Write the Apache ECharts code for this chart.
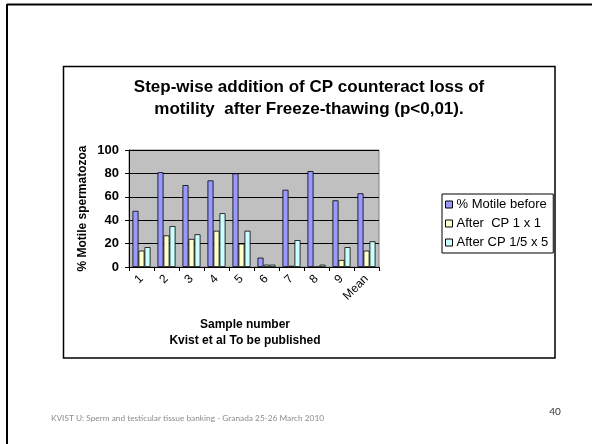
<!DOCTYPE html>
<html>
<head>
<meta charset="utf-8">
<script src="https://cdn.jsdelivr.net/npm/echarts@6/dist/echarts.min.js"></script>
<style>
html,body{margin:0;padding:0;background:#fff;}
#c{width:592px;height:444px;}
</style>
</head>
<body>
<div id="c"></div>
<script>
var categories = ['1','2','3','4','5','6','7','8','9','Mean'];
var seriesNames = ['% Motile before', 'After  CP 1 x 1', 'After CP 1/5 x 5'];
var motileBefore = [48, 81, 70, 74, 80, 8, 66, 82, 57, 63];
var afterCP1x1 = [14, 27, 24, 31, 20, 2, 1, 0, 6, 14];
var afterCP15x5 = [17, 35, 28, 46, 31, 2, 23, 2, 17, 22];
var yTicks = [0, 20, 40, 60, 80, 100];
var titleLines = ['Step-wise addition of CP counteract loss of', 'motility  after Freeze-thawing (p<0,01).'];
var yAxisName = '% Motile spermatozoa';
var xAxisNameLines = ['Sample number', 'Kvist et al To be published'];
var footerText = 'KVIST U: Sperm and testicular tissue banking - Granada 25-26 March 2010';
var pageNumber = '40';

var FONT = '"Liberation Sans", Arial, sans-serif';
var colors = ['#9999FF', '#FFFFCC', '#CCFFFF'];
var data = [motileBefore, afterCP1x1, afterCP15x5];

var chart = echarts.init(document.getElementById('c'), null, {renderer: 'canvas'});

var series = seriesNames.map(function (n, i) {
  return {
    name: n,
    type: 'bar',
    data: data[i],
    barGap: '0%',
    barCategoryGap: '28%',
    itemStyle: {color: colors[i], borderColor: '#000', borderWidth: 0.8},
    emphasis: {disabled: true}
  };
});

var option = {
  animation: false,
  color: colors,
  textStyle: {fontFamily: FONT},
  grid: {
    left: 129, top: 150, width: 250, height: 117,
    show: true, backgroundColor: '#C0C0C0', borderColor: '#808080', borderWidth: 1
  },
  legend: {
    orient: 'vertical',
    left: 442, top: 194,
    padding: [4, 5, 4, 3],
    itemGap: 6,
    itemWidth: 7, itemHeight: 7,
    icon: 'rect',
    borderColor: '#000', borderWidth: 1,
    backgroundColor: '#fff',
    itemStyle: {borderColor: '#000', borderWidth: 1},
    textStyle: {fontFamily: FONT, fontSize: 13, color: '#000', padding: [0, 0, 0, -1]},
    data: seriesNames
  },
  xAxis: {
    type: 'category',
    data: categories,
    boundaryGap: true,
    axisLine: {lineStyle: {color: '#000', width: 1}},
    axisTick: {show: true, length: 4, lineStyle: {color: '#000'}},
    axisLabel: {rotate: 45, margin: 10, fontFamily: FONT, fontSize: 12, color: '#000', interval: 0}
  },
  yAxis: {
    type: 'value',
    min: yTicks[0], max: yTicks[yTicks.length - 1], interval: yTicks[1] - yTicks[0],
    name: yAxisName,
    nameLocation: 'middle',
    nameGap: 40,
    nameTextStyle: {fontFamily: FONT, fontSize: 12, fontWeight: 'bold', color: '#000'},
    axisLine: {show: true, lineStyle: {color: '#000', width: 1}},
    axisTick: {show: true, length: 4, lineStyle: {color: '#000'}},
    splitLine: {show: true, lineStyle: {color: '#000', width: 1}},
    axisLabel: {margin: 10, fontFamily: FONT, fontSize: 13, fontWeight: 'bold', color: '#000'}
  },
  graphic: [
    {type: 'line', shape: {x1: 7, y1: 4.5, x2: 592, y2: 4.5}, style: {stroke: '#000', lineWidth: 2}},
    {type: 'line', shape: {x1: 7, y1: 4, x2: 7, y2: 444}, style: {stroke: '#000', lineWidth: 2}},
    {type: 'rect', shape: {x: 63.5, y: 66.5, width: 491.5, height: 291.5}, style: {fill: null, stroke: '#000', lineWidth: 1.5}, z: -1},
    {type: 'text', x: 309, y: 87, style: {text: titleLines[0], font: 'bold 17px ' + FONT, fill: '#000', align: 'center', verticalAlign: 'middle'}},
    {type: 'text', x: 309, y: 109, style: {text: titleLines[1], font: 'bold 17px ' + FONT, fill: '#000', align: 'center', verticalAlign: 'middle'}},
    {type: 'text', x: 245, y: 325, style: {text: xAxisNameLines[0], font: 'bold 12px ' + FONT, fill: '#000', align: 'center', verticalAlign: 'middle'}},
    {type: 'text', x: 245, y: 341, style: {text: xAxisNameLines[1], font: 'bold 12px ' + FONT, fill: '#000', align: 'center', verticalAlign: 'middle'}},
    {type: 'text', x: 51, y: 418, style: {text: footerText, font: '8.3px Lato, "Open Sans", sans-serif', fill: '#8c8c8c', align: 'left', verticalAlign: 'middle'}},
    {type: 'text', x: 555, y: 412, style: {text: pageNumber, font: '10px Lato, "Open Sans", sans-serif', fill: '#333', align: 'center', verticalAlign: 'middle'}}
  ],
  series: series
};
chart.setOption(option);
</script>
</body>
</html>
